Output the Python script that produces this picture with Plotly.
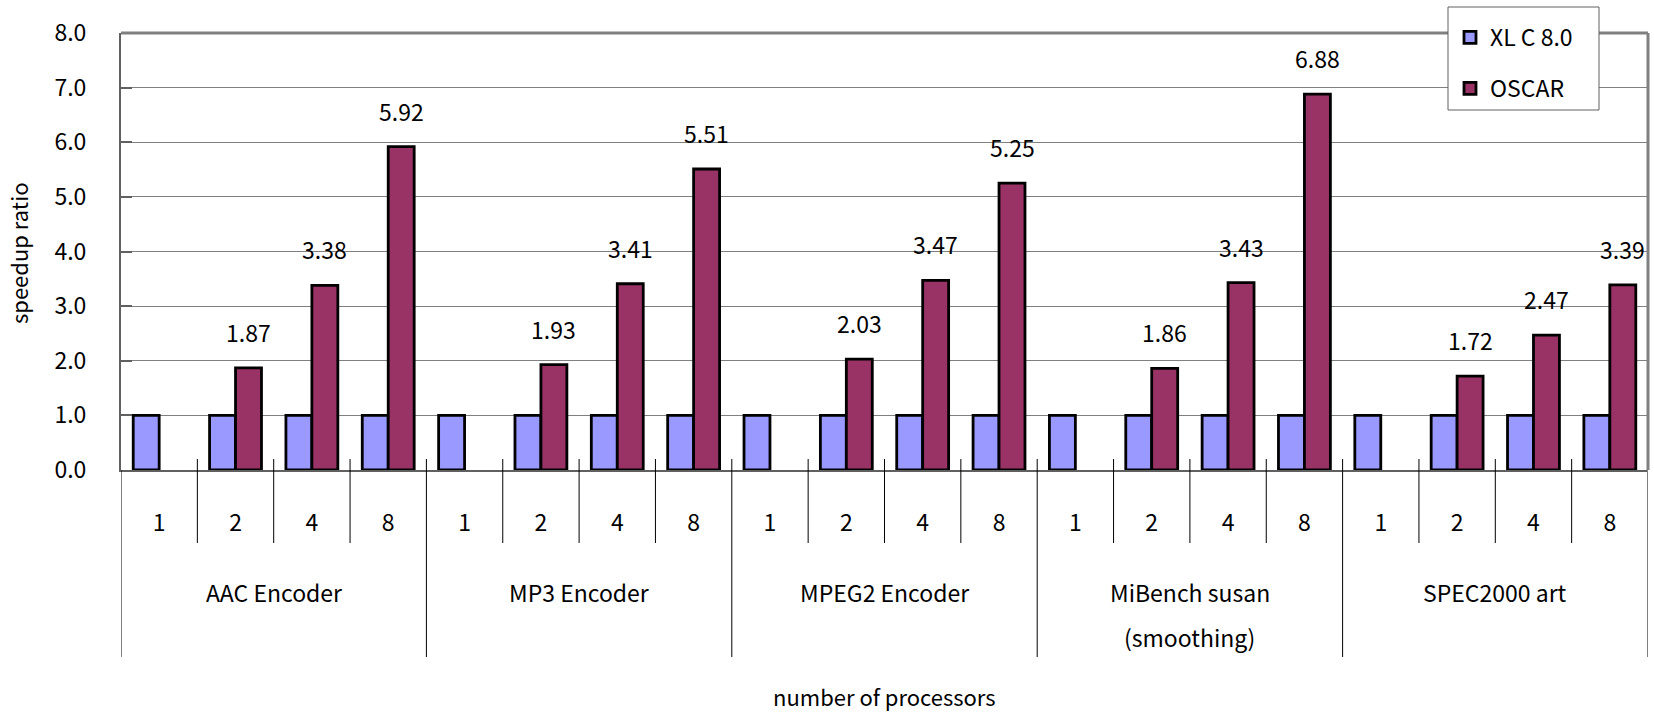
import plotly.graph_objects as go

groups = ["AAC Encoder", "MP3 Encoder", "MPEG2 Encoder", "MiBench susan\n(smoothing)", "SPEC2000 art"]
procs = ["1", "2", "4", "8"]
xlc = [1.0, 1.0, 1.0, 1.0] * 5
oscar = [None, 1.87, 3.38, 5.92,
         None, 1.93, 3.41, 5.51,
         None, 2.03, 3.47, 5.25,
         None, 1.86, 3.43, 6.88,
         None, 1.72, 2.47, 3.39]
series_names = ["XL C 8.0", "OSCAR"]
colors = ["#9999FF", "#993366"]

FONT = "Noto Sans CJK JP"
FS = 23
W, H = 1654, 714
L, R, T, B = 121, 6, 33, 244
PW, PH = W - L - R, H - T - B

def px_to_paper_x(px):
    return (px - L) / PW

def px_to_paper_y(py):
    return (H - B - py) / PH

n = len(groups) * len(procs)
xs = list(range(n))
ticktext = procs * len(groups)

fig = go.Figure()
fig.add_trace(go.Bar(x=xs, y=xlc, name=series_names[0], legendgroup="a",
                     marker=dict(color=colors[0], line=dict(color="black", width=2.8))))
fig.add_trace(go.Bar(x=xs, y=oscar, name=series_names[1], legendgroup="b",
                     marker=dict(color=colors[1], line=dict(color="black", width=2.8))))

ann = []
for i, v in enumerate(oscar):
    if v is not None:
        ann.append(dict(x=i + 0.17, y=v, xref="x", yref="y", text=f"{v:.2f}",
                        showarrow=False, yanchor="middle", yshift=36,
                        font=dict(family=FONT, size=FS, color="black")))

for g, name in enumerate(groups):
    cx = g * len(procs) + (len(procs) - 1) / 2
    for li, line in enumerate(name.split("\n")):
        ann.append(dict(x=cx, y=px_to_paper_y(592 + 45 * li), xref="x", yref="paper", text=line,
                        showarrow=False, yanchor="middle",
                        font=dict(family=FONT, size=FS, color="black")))

ann.append(dict(x=px_to_paper_x(884), y=px_to_paper_y(696), xref="paper", yref="paper",
                text="number of processors", showarrow=False, xanchor="center", yanchor="middle",
                font=dict(family=FONT, size=FS - 1, color="black")))
ann.append(dict(x=px_to_paper_x(18), y=px_to_paper_y(253), xref="paper", yref="paper",
                text="speedup ratio", showarrow=False, textangle=-90,
                xanchor="center", yanchor="middle",
                font=dict(family=FONT, size=FS - 1, color="black")))

shapes = []
for i in range(n + 1):
    b = i - 0.5
    is_group = (i % len(procs) == 0)
    y0 = 0.0 if i == 0 else px_to_paper_y(459)
    y1 = px_to_paper_y(657) if is_group else px_to_paper_y(543)
    col = "#808080" if i == n else "black"
    shapes.append(dict(type="line", xref="x", yref="paper", x0=b, x1=b, y0=y0, y1=y1,
                       line=dict(color=col, width=2 if i == n else 1)))
shapes.append(dict(type="line", xref="paper", yref="paper", x0=0, x1=1, y0=1, y1=1,
                   line=dict(color="#808080", width=3)))
shapes.append(dict(type="line", xref="paper", yref="paper", x0=1, x1=1, y0=0, y1=1,
                   line=dict(color="#808080", width=3)))
shapes.append(dict(type="rect", xref="paper", yref="paper", layer="above",
                   x0=px_to_paper_x(1448), x1=px_to_paper_x(1599),
                   y0=px_to_paper_y(110), y1=px_to_paper_y(7),
                   fillcolor="white", line=dict(color="#606060", width=1)))

fig.update_layout(
    width=W, height=H,
    margin=dict(l=L, r=R, t=T, b=B, autoexpand=False),
    paper_bgcolor="white", plot_bgcolor="white",
    barmode="group", bargap=0.32, bargroupgap=0,
    font=dict(family=FONT, size=FS, color="black"),
    xaxis=dict(range=[-0.5, n - 0.5], tickvals=xs, ticktext=ticktext, showgrid=False,
               zeroline=False, showline=True, linecolor="#606060", linewidth=2,
               ticks="", ticklabelstandoff=31, automargin=False,
               tickfont=dict(family=FONT, size=FS)),
    yaxis=dict(range=[0, 8], dtick=1, tickformat=".1f", showgrid=True,
               gridcolor="#808080", gridwidth=1, zeroline=False,
               showline=True, linecolor="#606060", linewidth=2,
               ticks="inside", ticklen=11, tickcolor="#606060", tickwidth=2,
               ticklabelstandoff=28, automargin=False,
               tickfont=dict(family=FONT, size=FS)),
    legend=dict(xref="container", yref="container", x=1450 / W, y=1 - 16 / H,
                xanchor="left", yanchor="top",
                bgcolor="rgba(0,0,0,0)", borderwidth=0,
                font=dict(family=FONT, size=FS), traceorder="grouped",
                tracegroupgap=18, itemwidth=30),
    annotations=ann, shapes=shapes, showlegend=True,
)

fig.write_html("out.html", config={"displayModeBar": False},
               post_script="document.body.style.margin='0';document.body.style.overflow='hidden';")
